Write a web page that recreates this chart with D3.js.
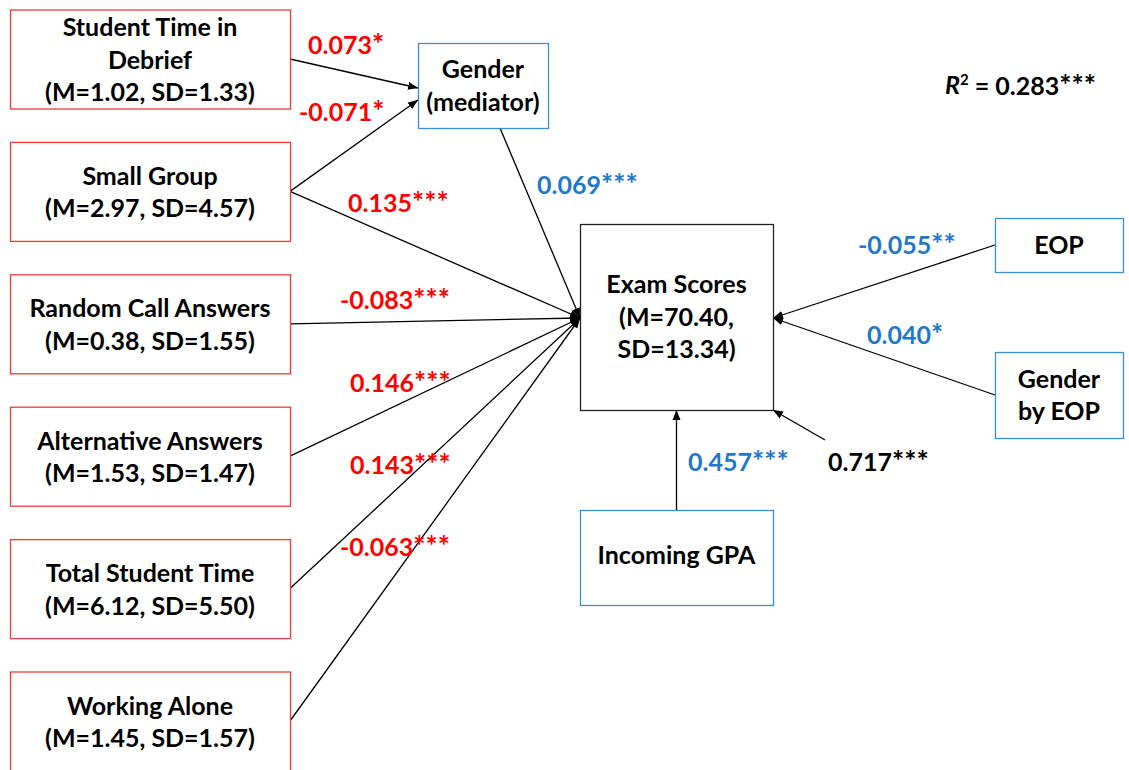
<!DOCTYPE html>
<html>
<head>
<meta charset="utf-8">
<script src="https://cdn.jsdelivr.net/npm/d3@7"></script>
<style>
  html, body { margin: 0; padding: 0; background: #fff; }
  svg { display: block; }
  text { font-family: Lato, "Open Sans", sans-serif; font-weight: 700; }
</style>
</head>
<body>
<svg id="chart" width="1129" height="770"></svg>
<script>
// Classroom predictors (left column)
const predictors = ["Student Time in Debrief", "Small Group", "Random Call Answers",
  "Alternative Answers", "Total Student Time", "Working Alone"];
const predictorLines = [["Student Time in", "Debrief"], ["Small Group"], ["Random Call Answers"],
  ["Alternative Answers"], ["Total Student Time"], ["Working Alone"]];
const predictorM = [1.02, 2.97, 0.38, 1.53, 6.12, 1.45];
const predictorSD = [1.33, 4.57, 1.55, 1.47, 5.50, 1.57];

// Path coefficients
const debriefToGender = "0.073*";
const smallGroupToGender = "-0.071*";
const predictorToExam = [null, "0.135***", "-0.083***", "0.146***", "0.143***", "-0.063***"];
const genderToExam = "0.069***";
const eopToExam = "-0.055**";
const genderEopToExam = "0.040*";
const gpaToExam = "0.457***";
const residual = "0.717***";
const rSquared = "0.283***";

// Outcome statistics
const examM = 70.40, examSD = 13.34;

const RED = "#ff0000", RED_BOX = "#ee3b3b", BLUE = "#1f78c8", BLUE_BOX = "#3b8fd6";

const svg = d3.select("#chart");

svg.append("defs").append("marker")
  .attr("id", "arrow").attr("viewBox", "0 0 10 10")
  .attr("refX", 10).attr("refY", 5)
  .attr("markerWidth", 10).attr("markerHeight", 10)
  .attr("markerUnits", "userSpaceOnUse")
  .attr("orient", "auto")
  .append("path").attr("d", "M0,1 L10,5 L0,9 Z").attr("fill", "#000");

// Row layout for the left column
const rowY = d3.scalePoint().domain(predictors).range([59, 721]);
const leftX = 10, leftW = 280, boxH = 99;

const gender = { x: 418, y: 43, w: 130, h: 85 };
const exam = { x: 580, y: 224, w: 193, h: 186 };
const eop = { x: 995, y: 218, w: 128, h: 54 };
const genEop = { x: 995, y: 352, w: 128, h: 86 };
const gpa = { x: 580, y: 510, w: 193, h: 95 };

const fs = 25, lh = 32.5;

// Asterisks drawn a touch larger, as the bold face renders them small
function addText(sel, t) {
  const m = t.match(/^([^*]*)(\**)$/);
  sel.append("tspan").text(m[1]);
  if (m[2]) sel.append("tspan").attr("font-size", fs * 1.15).text(m[2]);
}

function drawBox(b, stroke, lines, midY) {
  svg.append("rect").attr("x", b.x + 0.5).attr("y", b.y + 0.5)
    .attr("width", b.w).attr("height", b.h)
    .attr("fill", "#fff").attr("stroke", stroke).attr("stroke-width", 1.3);
  const cy = midY == null ? b.y + b.h / 2 : midY;
  const y0 = cy - (lines.length - 1) * lh / 2;
  lines.forEach((t, i) => {
    svg.append("text").attr("x", b.x + b.w / 2).attr("y", y0 + i * lh)
      .attr("dy", "0.35em").attr("text-anchor", "middle")
      .attr("font-size", fs).attr("fill", "#000").text(t);
  });
}

function line(x1, y1, x2, y2, arrow) {
  const l = svg.append("line").attr("x1", x1).attr("y1", y1).attr("x2", x2).attr("y2", y2)
    .attr("stroke", "#000").attr("stroke-width", 1.3);
  if (arrow) l.attr("marker-end", "url(#arrow)");
}

function label(x, y, t, color, anchor) {
  const s = svg.append("text").attr("x", x).attr("y", y).attr("dy", "0.35em")
    .attr("text-anchor", anchor || "start").attr("font-size", fs)
    .attr("fill", color);
  addText(s, t);
}

const examHub = [exam.x, exam.y + 94];

// Paths from predictors
line(leftX + leftW, rowY(predictors[0]), gender.x, gender.y + 45, true);
line(leftX + leftW, rowY(predictors[1]), gender.x, gender.y + 57, true);
predictors.forEach((p, i) => {
  if (predictorToExam[i]) line(leftX + leftW, rowY(p), examHub[0], examHub[1], true);
});
line(gender.x + 82, gender.y + gender.h, examHub[0], examHub[1], true);
line(eop.x, eop.y + 27, exam.x + exam.w, examHub[1], true);
line(genEop.x, genEop.y + 43, exam.x + exam.w, examHub[1], true);
line(gpa.x + gpa.w / 2, gpa.y, gpa.x + gpa.w / 2, exam.y + exam.h, true);
line(825, 440, exam.x + exam.w, exam.y + exam.h, true);

// Boxes
predictors.forEach((p, i) => {
  const cy = rowY(p);
  const lines = predictorLines[i].concat([`(M=${predictorM[i].toFixed(2)}, SD=${predictorSD[i].toFixed(2)})`]);
  drawBox({ x: leftX, y: cy - boxH / 2, w: leftW, h: boxH }, RED_BOX, lines, cy + 1);
});
drawBox(gender, BLUE_BOX, ["Gender", "(mediator)"]);
drawBox(exam, "#222", ["Exam Scores", `(M=${examM.toFixed(2)},`, `SD=${examSD.toFixed(2)})`], exam.y + 93);
drawBox(eop, BLUE_BOX, ["EOP"]);
drawBox(genEop, BLUE_BOX, ["Gender", "by EOP"]);
drawBox(gpa, BLUE_BOX, ["Incoming GPA"], gpa.y + 45);

// Coefficient labels
label(308, 45, debriefToGender, RED);
label(299, 112, smallGroupToGender, RED);
const labelPos = [null, [348, 203], [340, 300], [350, 383], [350, 465], [340, 547]];
predictorToExam.forEach((t, i) => { if (t) label(labelPos[i][0], labelPos[i][1], t, RED); });
label(537, 185, genderToExam, BLUE);
label(858, 245, eopToExam, BLUE);
label(867, 335, genderEopToExam, BLUE);
label(688, 462, gpaToExam, BLUE);
label(828, 462, residual, "#000");

// Model fit
const r2 = svg.append("text").attr("x", 945).attr("y", 85).attr("dy", "0.35em")
  .attr("font-size", fs).attr("fill", "#000");
r2.append("tspan").attr("font-style", "italic").text("R");
r2.append("tspan").attr("font-size", 15).attr("dy", "-0.6em").text("2");
r2.append("tspan").attr("dy", "0.4em").text(" = 0.283");
r2.append("tspan").attr("font-size", fs * 1.15).text(rSquared.replace(/[^*]/g, ""));
</script>
</body>
</html>
